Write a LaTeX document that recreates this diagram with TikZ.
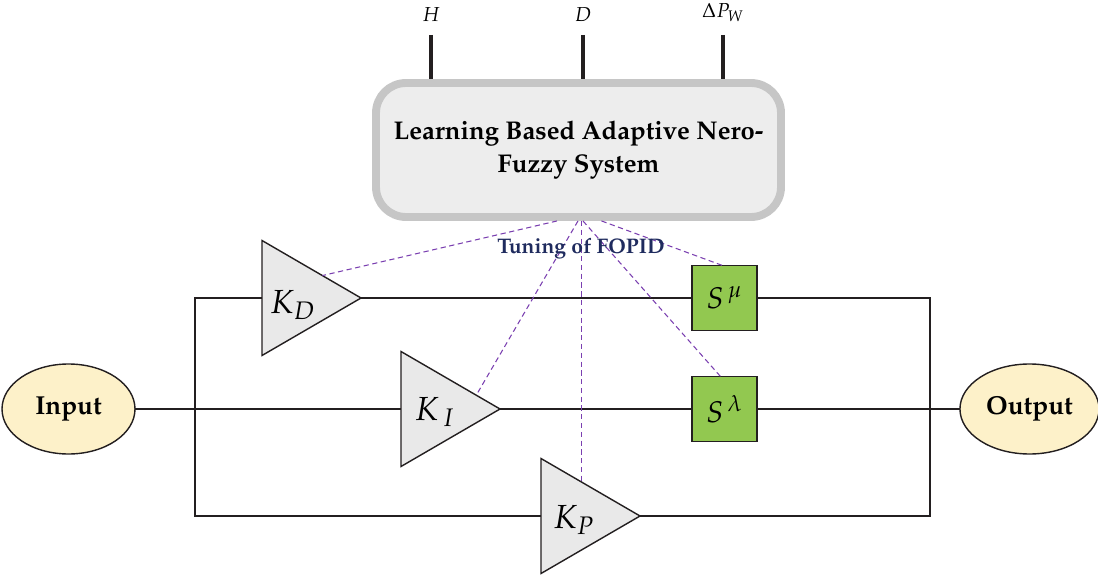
\documentclass[tikz,border=0pt]{standalone}
\usepackage[T1]{fontenc}
\usepackage{mathpazo}
\usetikzlibrary{calc,shapes.geometric}
\definecolor{NfsFill}{HTML}{EDEDED}
\definecolor{NfsEdge}{HTML}{C6C6C6}
\definecolor{GainFill}{HTML}{E9E9E9}
\definecolor{FracGreen}{HTML}{92C850}
\definecolor{PortFill}{HTML}{FDF1C9}
\definecolor{TuneLine}{HTML}{7A3FB0}
\definecolor{TuneText}{HTML}{1F2B5E}
\definecolor{Wire}{HTML}{231F20}
\tikzset{
  nfs/.style={rectangle, rounded corners=0.6cm, draw=NfsEdge, fill=NfsFill, line width=4.5pt,
              minimum width=405*0.02cm, minimum height=134*0.02cm, align=center,
              font=\fontsize{14.6}{19}\selectfont\bfseries},
  gain/.style={isosceles triangle, isosceles triangle stretches, shape border rotate=0,
               draw=Wire, fill=GainFill, line width=0.8pt, inner sep=0pt, outer sep=0pt,
               minimum height=99*0.02cm, minimum width=115*0.02cm, anchor=west},
  glbl/.style={font=\fontsize{19}{22}\selectfont, inner sep=0pt},
  fracop/.style={rectangle, draw=Wire, fill=FracGreen, line width=1.1pt, outer sep=0pt,
                 minimum size=65*0.02cm, inner sep=0pt, font=\fontsize{17}{20}\selectfont},
  port/.style={ellipse, draw=Wire, fill=PortFill, line width=0.8pt, outer sep=0pt,
               minimum width=133*0.02cm, minimum height=90*0.02cm,
               font=\fontsize{14.8}{16}\selectfont\bfseries},
  wire/.style={line width=1.1pt, draw=Wire},
  sig/.style={line width=1.8pt, draw=Wire},
  siglbl/.style={font=\fontsize{11.5}{13}\selectfont, inner sep=0pt, anchor=south},
  tune/.style={draw=TuneLine, line width=0.6pt, dash pattern=on 3pt off 2pt},
  tunelbl/.style={font=\fontsize{12}{14}\selectfont\bfseries, text=TuneText, inner sep=0pt},
}
\begin{document}
\begin{tikzpicture}[x=0.02cm, y=-0.02cm]
\useasboundingbox (0,0) rectangle (1098,577);
% adaptive neuro-fuzzy block and its inputs
\node[nfs] (nfs) at (578.5,150) {Learning Based Adaptive Nero-\\Fuzzy System};
\node[siglbl] (hin) at (431,22) {$H$};
\node[siglbl] (din) at (583,22) {$D$};
\node[siglbl] (pwin) at (723,22) {$\Delta P_W$};
\draw[sig] ([yshift=-13*0.02cm]hin.south) -- (hin.south |- nfs.north);
\draw[sig] ([yshift=-13*0.02cm]din.south) -- (din.south |- nfs.north);
\draw[sig] ([yshift=-13*0.02cm]pwin.south) -- (pwin.south |- nfs.north);
% FOPID branches
\node[port] (in) at (68.5,409) {Input};
\node[port] (out) at (1029.5,409) {Output};
\node[gain] (kd) at (262,298) {};
\node[gain] (ki) at (401,409) {};
\node[gain] (kp) at (541,516) {};
\node[glbl] (kdl) at (293,305) {$K_D$};
\node[glbl] (kil) at (435,412) {$K_{\,I}$};
\node[glbl] (kpl) at (574,520) {$K_P$};
\node[fracop] (smu) at (724.5,298) {$S^{\,\mu}$};
\node[fracop] (sla) at (724.5,409) {$S^{\,\lambda}$};
\coordinate (jl) at (195,409);
\coordinate (jr) at (930,409);
\draw[wire] (in.east) -- (ki.west);
\draw[wire] (kd.west) -| (jl) |- (kp.west);
\draw[wire] (kd.apex) -- (smu.west);
\draw[wire] (ki.apex) -- (sla.west);
\draw[wire] (smu.east) -| (jr) |- (kp.apex);
\draw[wire] (sla.east) -- (out.west);
% tuning links
\coordinate (tkd) at ($(kd.apex)!0.39!(kd.left corner)$);
\coordinate (tki) at ($(ki.apex)!0.24!(ki.left corner)$);
\coordinate (tkp) at ($(kp.apex)!0.59!(kp.left corner)$);
\draw[tune] ($(nfs.south)+(-21.5,0)$) -- (tkd);
\draw[tune] ($(nfs.south)+(-0.5,0)$) -- (tki);
\draw[tune] (tkp |- nfs.south) -- (tkp);
\draw[tune] ($(nfs.south)+(4.5,0)$) -- ([xshift=-4*0.02cm]sla.north);
\draw[tune] ($(nfs.south)+(23,0)$) -- ([xshift=-2*0.02cm]smu.north);
\node[tunelbl] (tune) at (581,249) {Tuning of FOPID};
\end{tikzpicture}
\end{document}
